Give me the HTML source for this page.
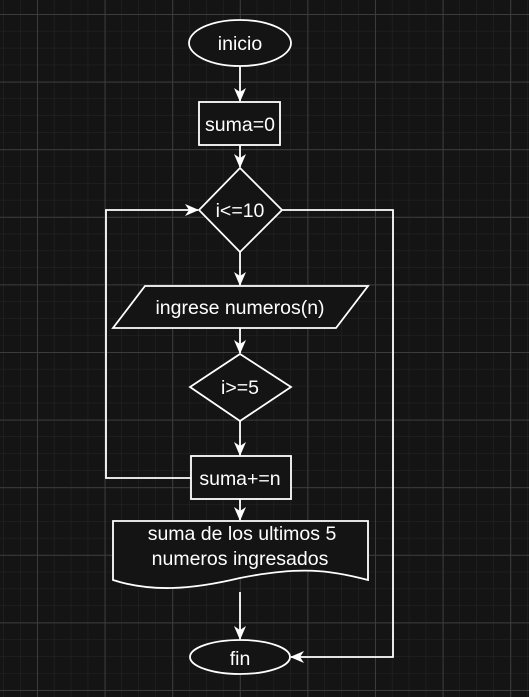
<!DOCTYPE html>
<html><head><meta charset="utf-8"><style>
html,body{margin:0;padding:0;background:#141414;}
svg{display:block;}
text{font-family:"Liberation Sans",Arial,sans-serif;fill:#fff;font-size:19.5px;text-anchor:middle;}
</style></head><body>
<svg width="529" height="697" viewBox="0 0 529 697" xmlns="http://www.w3.org/2000/svg">
<defs>
<pattern id="minor" x="3.2" y="-2.9" width="16.9" height="16.9" patternUnits="userSpaceOnUse">
<path d="M0 0H16.9M0 0V16.9" stroke="#262626" stroke-width="1" fill="none"/>
</pattern>
<pattern id="major" x="37" y="14" width="67.6" height="67.6" patternUnits="userSpaceOnUse">
<path d="M0 0.5H67.6M0.5 0V67.6" stroke="#3c3c3c" stroke-width="1" fill="none"/>
</pattern>
<marker id="a" viewBox="0 0 14 12" refX="13" refY="6" markerWidth="14" markerHeight="12" markerUnits="userSpaceOnUse" orient="auto">
<path d="M0 0L14 6L0 12L4 6Z" fill="#fff"/>
</marker>
</defs>
<rect width="529" height="697" fill="#141414"/>
<rect width="529" height="697" fill="url(#minor)"/>
<rect width="529" height="697" fill="url(#major)"/>
<g stroke="#fff" stroke-width="1.8" fill="#141414">
<ellipse cx="240" cy="43" rx="51" ry="23"/>
<rect x="199" y="102" width="81" height="43"/>
<polygon points="240,168 282,210 240,252 199,210"/>
<polygon points="145,286 368,286 336,328 113,328"/>
<polygon points="240,354 291,387 240,421 190,387"/>
<rect x="191" y="456" width="100" height="43"/>
<path d="M113 521H368V580C330 570 300 566 240 578C190 590 150 592 113 580Z"/>
<ellipse cx="240" cy="657" rx="50" ry="17"/>
</g>
<g stroke="#fff" stroke-width="1.8" fill="none" marker-end="url(#a)">
<path d="M240 66V101"/>
<path d="M240 145V167"/>
<path d="M240 252V285"/>
<path d="M240 328V353"/>
<path d="M240 421V455"/>
<path d="M240 499V520"/>
<path d="M240 592V639"/>
<path d="M191 478H106V210H198"/>
<path d="M282 210H393V657H291"/>
</g>
<text x="240" y="50">inicio</text>
<text x="240" y="131">suma=0</text>
<text x="240" y="217">i&lt;=10</text>
<text x="240" y="314">ingrese numeros(n)</text>
<text x="240" y="394">i&gt;=5</text>
<text x="240" y="485">suma+=n</text>
<text x="242" y="540">suma de los ultimos 5</text>
<text x="240" y="565">numeros ingresados</text>
<text x="240" y="665">fin</text>
</svg>
</body></html>
